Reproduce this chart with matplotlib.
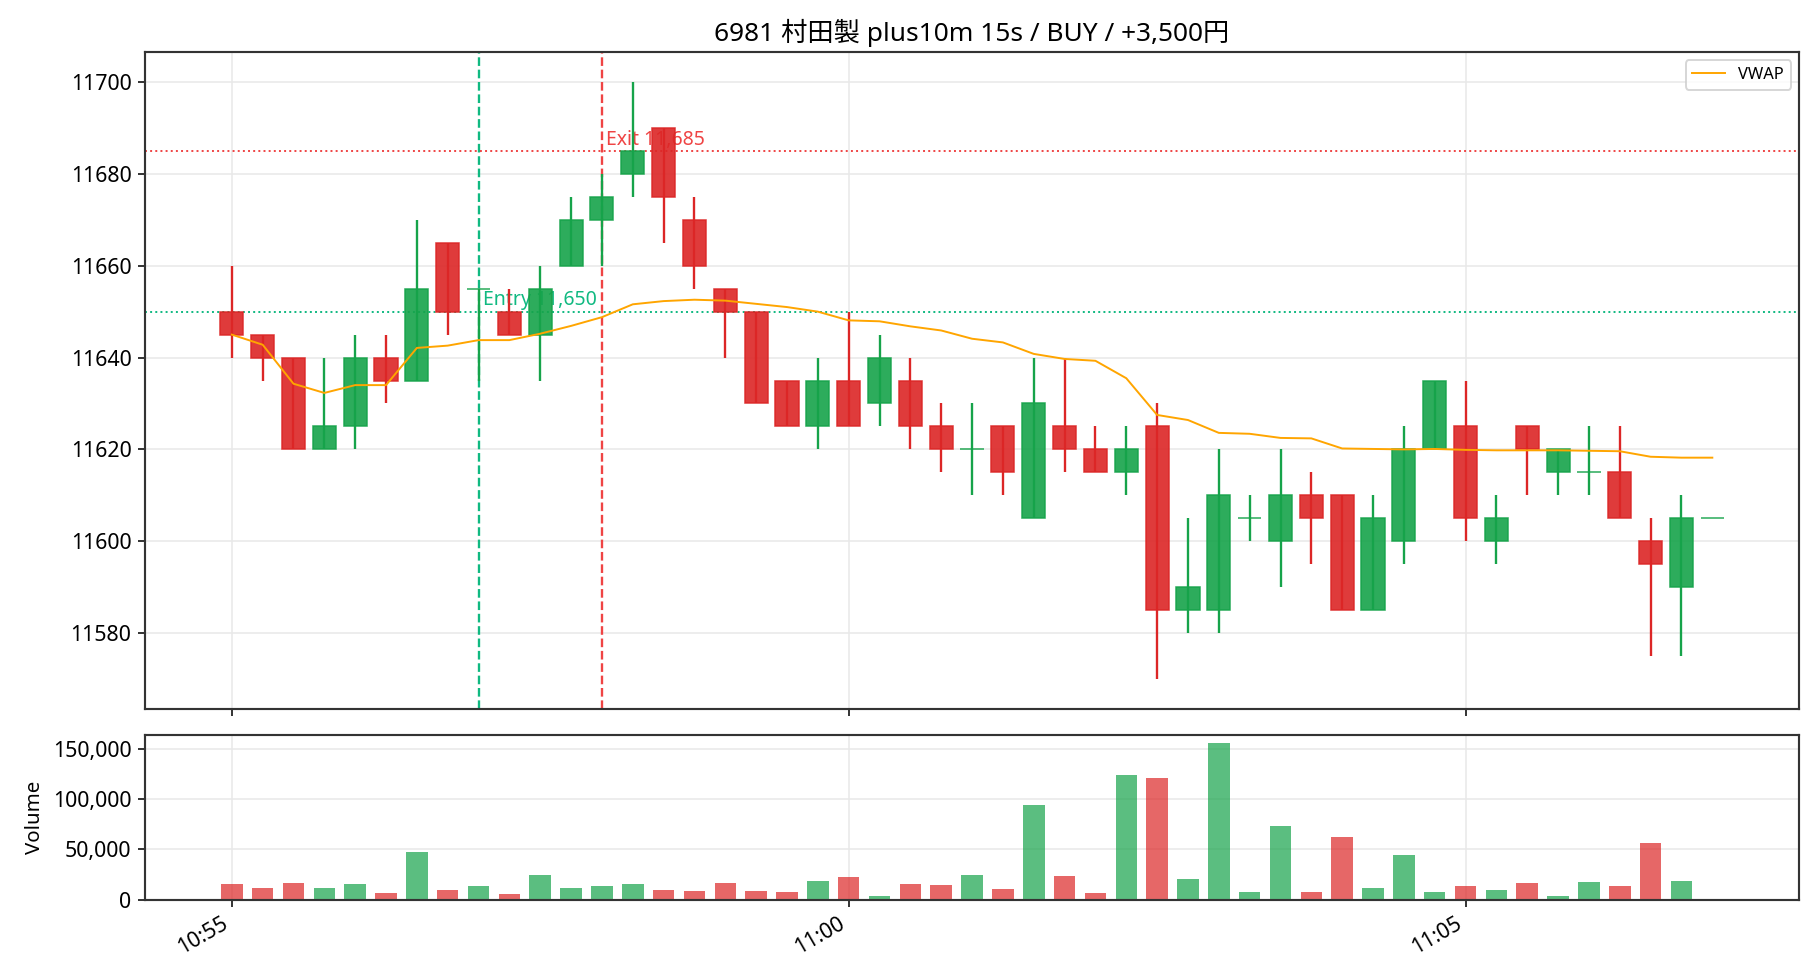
import pandas as pd
import matplotlib
matplotlib.use("Agg")
import matplotlib.pyplot as plt
import matplotlib.dates as mdates
from matplotlib.ticker import FuncFormatter, MultipleLocator

plt.rcParams['font.family'] = ['Noto Sans', 'Noto Sans CJK JP', 'DejaVu Sans']

# 15 second candles, 10:55:00 - 11:07:00
times = pd.date_range("2024-01-01 10:55:00", periods=49, freq="15s")

opens = [11650, 11645, 11640, 11620, 11625, 11640, 11635, 11665, 11655, 11650,
         11645, 11660, 11670, 11680, 11690, 11670, 11655, 11650, 11635, 11625,
         11635, 11630, 11635, 11625, 11620, 11625, 11605, 11625, 11620, 11615,
         11625, 11585, 11585, 11605, 11600, 11610, 11610, 11585, 11600, 11620,
         11625, 11600, 11625, 11615, 11615, 11615, 11600, 11590, 11605]
highs = [11660, 11645, 11640, 11640, 11645, 11645, 11670, 11665, 11655, 11655,
         11660, 11675, 11680, 11700, 11690, 11675, 11655, 11650, 11635, 11640,
         11650, 11645, 11640, 11630, 11630, 11625, 11640, 11640, 11625, 11625,
         11630, 11605, 11620, 11610, 11620, 11615, 11610, 11610, 11625, 11635,
         11635, 11610, 11625, 11620, 11625, 11625, 11605, 11610, 11605]
lows = [11640, 11635, 11620, 11620, 11620, 11630, 11635, 11645, 11635, 11645,
        11635, 11660, 11660, 11675, 11665, 11655, 11640, 11630, 11625, 11620,
        11625, 11625, 11620, 11615, 11610, 11610, 11605, 11615, 11615, 11610,
        11570, 11580, 11580, 11600, 11590, 11595, 11585, 11585, 11595, 11620,
        11600, 11595, 11610, 11610, 11610, 11605, 11575, 11575, 11605]
closes = [11645, 11640, 11620, 11625, 11640, 11635, 11655, 11650, 11655, 11645,
          11655, 11670, 11675, 11685, 11675, 11660, 11650, 11630, 11625, 11635,
          11625, 11640, 11625, 11620, 11620, 11615, 11630, 11620, 11615, 11620,
          11585, 11590, 11610, 11605, 11610, 11605, 11585, 11605, 11620, 11635,
          11605, 11605, 11620, 11620, 11615, 11605, 11595, 11605, 11605]
volumes = [15300, 11300, 16300, 11300, 15300, 6300, 47300, 9300, 13300, 5300,
           24300, 11300, 13300, 15300, 9300, 8300, 16300, 8300, 7300, 18300,
           22300, 3300, 15300, 14300, 24300, 10300, 94300, 23300, 6300, 124300,
           121300, 20300, 155300, 7300, 73300, 7300, 62300, 11300, 44300, 7300,
           13300, 9300, 16300, 3300, 17300, 13300, 56300, 18300, 500]
vwap = [11645.0, 11642.8, 11634.3, 11632.3, 11634.0, 11634.0, 11642.1, 11642.6, 11643.8, 11643.8,
        11645.2, 11646.9, 11648.8, 11651.6, 11652.3, 11652.6, 11652.4, 11651.7, 11651.0, 11650.0,
        11648.1, 11647.9, 11646.8, 11645.9, 11644.1, 11643.3, 11640.8, 11639.7, 11639.3, 11635.5,
        11627.5, 11626.4, 11623.6, 11623.4, 11622.5, 11622.4, 11620.2, 11620.1, 11620.0, 11620.1,
        11619.9, 11619.8, 11619.8, 11619.8, 11619.7, 11619.6, 11618.4, 11618.2, 11618.2]

entry_time = pd.Timestamp("2024-01-01 10:57:00")
entry_price = 11650
exit_time = pd.Timestamp("2024-01-01 10:58:00")
exit_price = 11685

UP = "#16a34a"
DOWN = "#dc2626"
ENTRY_C = "#10b981"
EXIT_C = "#ef4444"

fig = plt.figure(figsize=(13, 7), dpi=140)
gs = fig.add_gridspec(2, 1, height_ratios=[4, 1], hspace=0.065,
                      left=0.0797, right=0.9885, top=0.9467, bottom=0.082)
ax = fig.add_subplot(gs[0])
axv = fig.add_subplot(gs[1], sharex=ax)

x = mdates.date2num(times)
w = 15 / 86400 * 0.75
cols = [UP if c >= o else DOWN for o, c in zip(opens, closes)]
bottoms = [min(o, c) for o, c in zip(opens, closes)]
heights = [abs(c - o) for o, c in zip(opens, closes)]

# entry / exit markers (text sits under the candles)
ax.axvline(entry_time, color=ENTRY_C, linestyle="--", linewidth=1.2, zorder=1)
ax.axhline(entry_price, color=ENTRY_C, linestyle=":", linewidth=1.0, zorder=1)
ax.text(mdates.date2num(entry_time) + 2 / 86400, entry_price + 0.3, f"Entry {entry_price:,}",
        color=ENTRY_C, fontsize=10, va="bottom", ha="left", zorder=1)
ax.axvline(exit_time, color=EXIT_C, linestyle="--", linewidth=1.2, zorder=1)
ax.axhline(exit_price, color=EXIT_C, linestyle=":", linewidth=1.0, zorder=1)
ax.text(mdates.date2num(exit_time) + 2 / 86400, exit_price + 0.3, f"Exit {exit_price:,}",
        color=EXIT_C, fontsize=10, va="bottom", ha="left", zorder=1)

# wicks then bodies
ax.vlines(x, lows, highs, colors=cols, linewidth=1.2, zorder=2)
ax.bar(x, heights, bottom=bottoms, width=w, color=cols, edgecolor=cols,
       linewidth=0.8, alpha=0.9, zorder=3)
ax.plot(x, vwap, color="orange", linewidth=1.0, label="VWAP", zorder=4)

ax.set_title("6981 村田製 plus10m 15s / BUY / +3,500円", fontsize=13.5)
ax.legend(loc="upper right", fontsize=8.5)
ax.grid(True, color="#e8e8e8", linewidth=0.8, zorder=0)
ax.set_axisbelow(True)
ax.tick_params(labelbottom=False, labelsize=11)

# volume panel
axv.bar(x, volumes, width=w * 0.93, color=cols, alpha=0.7)
axv.set_ylabel("Volume", fontsize=10.5)
axv.yaxis.set_major_locator(MultipleLocator(50000))
axv.yaxis.set_major_formatter(FuncFormatter(lambda v, p: f"{int(v):,}"))
axv.grid(True, color="#e8e8e8", linewidth=0.8)
axv.set_axisbelow(True)
axv.tick_params(labelsize=11)
axv.xaxis.set_major_locator(mdates.MinuteLocator(byminute=range(0, 60, 5)))
axv.xaxis.set_major_formatter(mdates.DateFormatter("%H:%M"))
plt.setp(axv.get_xticklabels(), rotation=30, ha="right")

for a in (ax, axv):
    for s in a.spines.values():
        s.set_color("#333333")
        s.set_linewidth(1.1)

plt.savefig("out.png", dpi=140)
